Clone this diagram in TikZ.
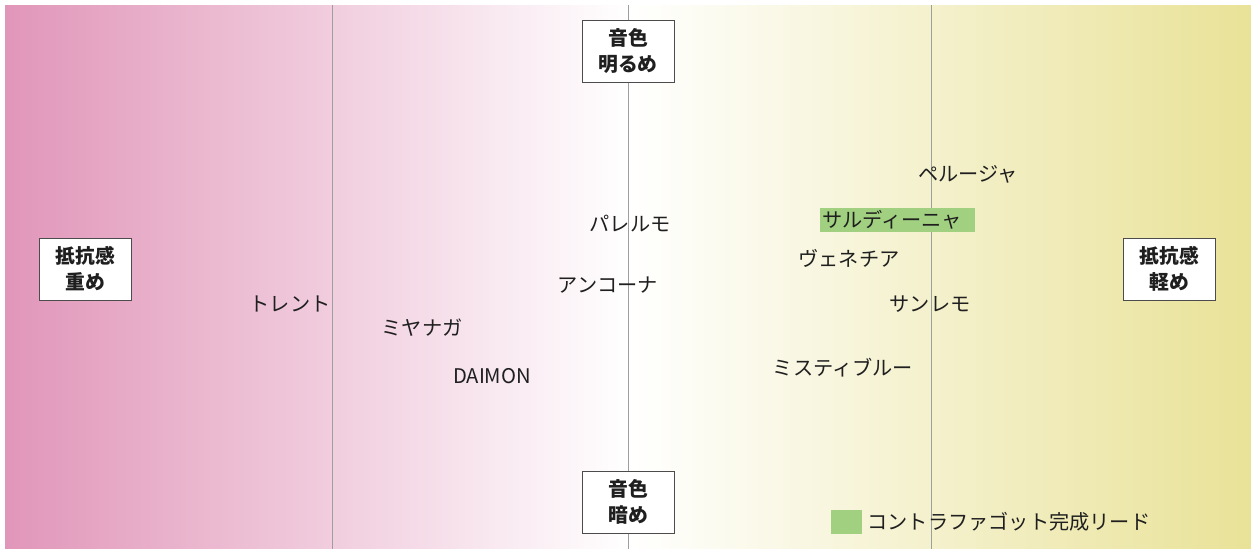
\documentclass[tikz,border=0pt]{standalone}
\usepackage{fontspec}
\setmainfont{Noto Sans CJK JP}
\usepackage{tikz}
\usetikzlibrary{positioning}
\usepackage{xcolor}
\definecolor{heavypink}{RGB}{225,150,185}
\definecolor{lightyellow}{RGB}{233,226,152}
\definecolor{leafgreen}{RGB}{160,208,128}

\begin{document}
\begin{tikzpicture}[x=1pt,y=-1pt,inner sep=0pt]
  \tikzstyle{every node}=[text=black!88,font=\fontsize{20.2}{24}\selectfont]
  \tikzstyle{axisbox}=[draw=black!70,fill=white,line width=0.8pt,align=center,
                       font=\bfseries\fontsize{19.8}{26}\selectfont,
                       minimum width=92pt,minimum height=62pt]
  \tikzstyle{axisline}=[draw=black!38,line width=0.9pt]
  \tikzstyle{greenmark}=[fill=leafgreen]

  \useasboundingbox (0,0) rectangle (1251,549);
  \shade[left color=heavypink,right color=white] (5,5) rectangle (628,549);
  \shade[left color=white,right color=lightyellow] (628,5) rectangle (1251,549);

  \coordinate (L top) at (332,5);   \coordinate (L bot) at (332,549);
  \coordinate (M top) at (628,5);   \coordinate (M bot) at (628,549);
  \coordinate (R top) at (931,5);   \coordinate (R bot) at (931,549);
  \draw[axisline] (L top) -- (L bot);
  \draw[axisline] (M top) -- (M bot);
  \draw[axisline] (R top) -- (R bot);

  \node[axisbox] (bright) at (628,51)    {音色\\明るめ};
  \node[axisbox] (dark)   at (628,502)   {音色\\暗め};
  \node[axisbox] (heavy)  at (85.5,269)  {抵抗感\\重め};
  \node[axisbox] (light)  at (1169.5,269) {抵抗感\\軽め};

  \node (trento)   at (290,304) {トレント};
  \node (miyanaga) at (422,328) {ミヤナガ};
  \node (daimon)   at (492,376) {DAIMON};
  \node (palermo)  at (630,224) {パレルモ};
  \node (ancona)   at (608,285) {アンコーナ};
  \node (perugia)  at (968,174) {ペルージャ};
  \node[greenmark,text width=151pt,align=left,inner xsep=2pt,minimum height=24pt]
       (sardinia)  at (897.5,220) {サルディーニャ};
  \node (venezia)  at (849,258) {ヴェネチア};
  \node (sanremo)  at (930,304) {サンレモ};
  \node (misty)    at (843,368) {ミスティブルー};

  \node[greenmark,minimum width=31pt,minimum height=24pt] (key) at (846.5,522) {};
  \node (keytext) [right=5pt of key] {コントラファゴット完成リード};
\end{tikzpicture}
\end{document}
